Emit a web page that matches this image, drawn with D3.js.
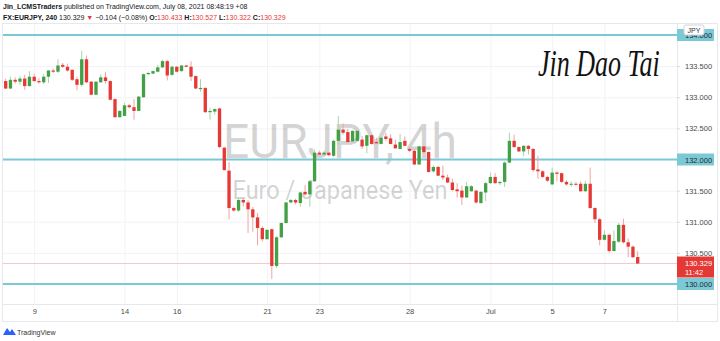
<!DOCTYPE html>
<html>
<head>
<meta charset="utf-8">
<script src="https://cdn.jsdelivr.net/npm/d3@7"></script>
<style>
  body { margin: 0; background: #fff; }
  svg { display: block; font-family: "Liberation Sans", Arial, sans-serif; }
  .axis text { fill: #4a4a4a; }
</style>
</head>
<body>
<svg id="chart" width="720" height="341"></svg>
<script>
// sessions (4h bars, UTC+8)
const days = ["Jun 8","Jun 9","Jun 10","Jun 11","Jun 12","Jun 14","Jun 15","Jun 16","Jun 17","Jun 18","Jun 19",
  "Jun 21","Jun 22","Jun 23","Jun 24","Jun 25","Jun 26","Jun 28","Jun 29","Jun 30","Jul 1","Jul 2","Jul 3",
  "Jul 5","Jul 6","Jul 7","Jul 8"];
const barsPerDay = [6,6,6,6,1,5,6,6,6,6,1,5,6,6,6,6,1,5,6,6,6,6,1,5,6,6,2];
const tickDays = ["Jun 9","Jun 14","Jun 16","Jun 21","Jun 23","Jun 28","Jul 1","Jul 5","Jul 7"];
const tickText = ["9","14","16","21","23","28","Jul","5","7"];
const priceTicks = [130, 130.5, 131, 131.5, 132, 132.5, 133, 133.5, 134];
const levels = [134, 132, 130];

const open = [133.26,133.14,133.28,133.25,133.30,133.18,133.33,133.26,133.24,133.33,
  133.43,133.41,133.52,133.49,133.44,133.29,133.20,133.61,133.25,133.04,
  133.24,133.32,133.26,132.97,132.68,132.70,132.87,132.84,132.78,133.00,
  133.37,133.38,133.41,133.48,133.58,133.36,133.49,133.42,133.51,133.49,
  133.34,133.13,133.15,132.76,132.77,132.82,132.19,131.82,131.22,131.18,
  131.35,131.31,131.20,131.07,130.90,130.72,130.88,130.29,130.75,130.98,
  131.31,131.35,131.30,131.48,131.44,131.65,132.11,132.08,132.11,132.06,
  132.30,132.48,132.44,132.29,132.30,132.32,132.22,132.39,132.28,132.25,
  132.37,132.34,132.24,132.17,132.30,132.17,132.14,131.92,132.21,132.12,
  131.81,131.88,131.74,131.71,131.63,131.52,131.50,131.39,131.49,131.50,
  131.30,131.47,131.62,131.72,131.62,131.64,131.95,132.30,132.20,132.13,
  132.22,132.17,131.84,131.81,131.72,131.60,131.79,131.78,131.64,131.60,
  131.61,131.61,131.49,131.61,131.22,131.04,130.71,130.79,130.53,130.68,
  130.95,130.67,130.60,130.433];
const high = [133.30,133.33,133.32,133.34,133.36,133.42,133.38,133.31,133.37,133.44,
  133.46,133.61,133.55,133.54,133.45,133.33,133.75,133.67,133.26,133.26,
  133.37,133.41,133.27,132.98,132.79,132.91,132.89,132.97,133.02,133.38,
  133.41,133.43,133.52,133.60,133.60,133.51,133.50,133.52,133.52,133.58,
  133.35,133.29,133.16,132.83,132.82,132.83,132.20,131.96,131.24,131.37,
  131.38,131.35,131.24,131.14,130.93,130.88,130.89,130.77,130.99,131.32,
  131.37,131.37,131.48,131.59,131.67,132.16,132.14,132.13,132.13,132.32,
  132.70,132.58,132.49,132.47,132.47,132.38,132.40,132.40,132.35,132.37,
  132.43,132.41,132.32,132.41,132.37,132.20,132.16,132.22,132.22,132.13,
  131.90,131.90,131.90,131.76,131.69,131.62,131.58,131.64,131.59,131.51,
  131.49,131.64,131.79,131.78,131.65,131.97,132.43,132.40,132.21,132.23,
  132.23,132.18,132.06,131.83,131.74,131.87,131.81,131.79,131.67,131.65,
  131.64,131.65,131.66,131.87,131.23,131.06,130.86,130.81,130.86,130.98,
  131.05,130.73,130.62,130.527];
const low = [133.13,133.13,133.22,133.20,133.12,133.17,133.25,133.22,133.21,133.23,
  133.39,133.39,133.47,133.41,133.26,133.11,133.17,133.23,133.03,133.03,
  133.23,133.22,132.95,132.67,132.67,132.70,132.82,132.64,132.78,132.99,
  133.36,133.37,133.40,133.47,133.27,133.34,133.40,133.41,133.48,133.26,
  133.13,133.09,132.75,132.64,132.72,132.18,131.82,131.04,131.16,131.16,
  131.24,130.82,130.84,130.62,130.68,130.71,130.08,130.26,130.74,130.97,
  131.30,131.28,131.24,131.42,131.24,131.64,132.07,132.06,132.05,132.04,
  132.24,132.40,132.27,132.28,132.29,132.17,132.10,132.24,132.25,132.24,
  132.30,132.24,132.17,132.16,132.21,132.12,131.91,131.91,132.10,131.79,
  131.79,131.73,131.67,131.62,131.49,131.39,131.27,131.38,131.48,131.29,
  131.29,131.33,131.61,131.61,131.59,131.56,131.94,132.19,132.12,132.05,
  132.08,131.80,131.69,131.70,131.64,131.59,131.65,131.62,131.58,131.56,
  131.58,131.48,131.48,131.21,130.98,130.62,130.70,130.50,130.52,130.66,
  130.65,130.43,130.42,130.322];
const close = [133.14,133.28,133.25,133.30,133.18,133.33,133.26,133.24,133.33,133.43,
  133.41,133.51,133.49,133.43,133.28,133.20,133.61,133.24,133.04,133.25,
  133.32,133.26,132.96,132.68,132.78,132.87,132.84,132.78,133.01,133.37,
  133.39,133.42,133.48,133.58,133.35,133.49,133.41,133.51,133.49,133.33,
  133.14,133.15,132.76,132.78,132.81,132.20,131.83,131.22,131.18,131.35,
  131.31,131.20,131.07,130.90,130.72,130.87,130.29,130.75,130.98,131.31,
  131.35,131.31,131.47,131.44,131.65,132.11,132.08,132.11,132.07,132.30,
  132.48,132.43,132.28,132.46,132.46,132.21,132.39,132.25,132.26,132.35,
  132.33,132.25,132.18,132.28,132.22,132.14,131.92,132.21,132.12,131.80,
  131.88,131.74,131.71,131.63,131.51,131.49,131.39,131.57,131.57,131.31,
  131.48,131.62,131.72,131.62,131.64,131.95,132.30,132.20,132.13,132.22,
  132.17,131.83,131.81,131.72,131.66,131.79,131.77,131.64,131.60,131.61,
  131.60,131.49,131.61,131.22,131.04,130.71,130.79,130.53,130.69,130.95,
  130.67,130.60,130.43,130.329];
const lastPrice = 130.329;

// build bar labels from the session table
const bars = [];
days.forEach(function (d, i) {
  var start = barsPerDay[i] === 5 ? 5 : 1;
  for (var k = 0; k < barsPerDay[i]; k++) {
    var h = start + 4 * k;
    bars.push(d + " " + (h < 10 ? "0" : "") + h + ":00");
  }
});
const candles = bars.map(function (b, i) {
  return { t: b, o: open[i], h: high[i], l: low[i], c: close[i] };
});

const svg = d3.select("#chart");
const W = 720, H = 341;
const plot = { left: 3, right: 677, top: 24, bottom: 304 };
const up = "#43a047", down = "#e53935";
const upWick = "#a8d5aa", downWick = "#f2a3a1";
const cyan = "#7cc9d6";

svg.append("rect").attr("width", W).attr("height", H).attr("fill", "#fff");

const x = d3.scalePoint().domain(bars).range([5.7, 637.7]);
const y = d3.scaleLinear().domain([130, 134]).range([284, 35]);
const bw = x.step() * 0.7;

// frame
svg.append("rect")
  .attr("x", plot.left - 0.5).attr("y", plot.top - 0.5)
  .attr("width", W - plot.left - 2).attr("height", 322 - plot.top)
  .attr("fill", "none").attr("stroke", "#e6e8ee");
svg.append("line").attr("x1", plot.left).attr("x2", W - 2)
  .attr("y1", plot.bottom + 0.5).attr("y2", plot.bottom + 0.5).attr("stroke", "#e6e8ee");
svg.append("line").attr("x1", plot.right + 0.5).attr("x2", plot.right + 0.5)
  .attr("y1", plot.top).attr("y2", 322).attr("stroke", "#e6e8ee");

// grid
const tickBars = tickDays.map(function (d) {
  return bars.find(function (b) { return b.indexOf(d + " ") === 0; });
});
svg.append("g")
  .attr("transform", "translate(0," + plot.bottom + ")")
  .call(d3.axisBottom(x).tickValues(tickBars).tickSize(-(plot.bottom - plot.top)).tickFormat(""))
  .call(function (g) {
    g.select(".domain").remove();
    g.selectAll("line").attr("stroke", "#f1f3f8");
  });
svg.append("g")
  .attr("transform", "translate(" + plot.left + ",0)")
  .call(d3.axisRight(y).tickValues(priceTicks).tickSize(plot.right - plot.left).tickFormat(""))
  .call(function (g) {
    g.select(".domain").remove();
    g.selectAll("line").attr("stroke", "#f1f3f8");
  });

// watermark
const wm = svg.append("g").attr("fill", "rgba(150,150,150,0.42)").attr("text-anchor", "middle")
  .style("font-family", "Roboto, sans-serif");
wm.append("text").attr("x", 340).attr("y", 158).attr("font-size", 49)
  .attr("textLength", 234).attr("lengthAdjust", "spacingAndGlyphs").text("EURJPY, 4h");
wm.append("text").attr("x", 340).attr("y", 199).attr("font-size", 26)
  .attr("textLength", 215).attr("lengthAdjust", "spacingAndGlyphs").text("Euro / Japanese Yen");

// signature
svg.append("text")
  .attr("transform", "translate(538,76) scale(1,1.45)")
  .style("font-family", "'Liberation Serif', serif").style("font-style", "italic")
  .attr("font-size", 26).attr("fill", "#111")
  .text("Jin Dao Tai");

// horizontal levels
svg.append("line").attr("x1", plot.left).attr("x2", plot.right)
  .attr("y1", y(lastPrice)).attr("y2", y(lastPrice))
  .attr("stroke", "#f5c9cc").attr("stroke-width", 1);
svg.selectAll(".level").data(levels).enter().append("line")
  .attr("class", "level")
  .attr("x1", plot.left).attr("x2", plot.right + 2)
  .attr("y1", function (d) { return y(d); }).attr("y2", function (d) { return y(d); })
  .attr("stroke", cyan).attr("stroke-width", 2);

// candles
const cg = svg.append("g");
cg.selectAll(".wick").data(candles).enter().append("line")
  .attr("x1", function (d) { return x(d.t); }).attr("x2", function (d) { return x(d.t); })
  .attr("y1", function (d) { return y(d.h); }).attr("y2", function (d) { return y(d.l); })
  .attr("stroke", function (d) { return d.c >= d.o ? upWick : downWick; })
  .attr("stroke-width", 1);
cg.selectAll(".body").data(candles).enter().append("rect")
  .attr("x", function (d) { return x(d.t) - bw / 2; })
  .attr("width", bw)
  .attr("y", function (d) { return y(Math.max(d.o, d.c)); })
  .attr("height", function (d) { return Math.max(1, Math.abs(y(d.o) - y(d.c))); })
  .attr("fill", function (d) { return d.c >= d.o ? up : down; });

// price axis
svg.append("g").attr("class", "axis")
  .attr("transform", "translate(" + plot.right + ",0)")
  .call(d3.axisRight(y).tickValues(priceTicks.filter(function (p) { return levels.indexOf(p) < 0; }))
    .tickSize(3).tickPadding(5).tickFormat(d3.format(".3f")))
  .call(function (g) {
    g.select(".domain").remove();
    g.selectAll("line").attr("stroke", "#d8dbe3");
    g.selectAll("text").attr("font-size", 7.5);
  });

// level labels
const lv = svg.selectAll(".lvl").data(levels).enter().append("g")
  .attr("transform", function (d) { return "translate(" + (plot.right) + "," + y(d) + ")"; });
lv.append("rect").attr("x", 0).attr("y", -6).attr("width", 37).attr("height", 12).attr("fill", cyan);
lv.append("text").attr("x", 8).attr("y", 3).attr("font-size", 7.5).attr("fill", "#1e2a30")
  .text(function (d) { return d3.format(".3f")(d); });

// last price label
const lp = svg.append("g").attr("transform", "translate(" + plot.right + "," + y(lastPrice) + ")");
lp.append("rect").attr("x", 0).attr("y", -7).attr("width", 37).attr("height", 21).attr("fill", "#e53935");
lp.append("text").attr("x", 8).attr("y", 2.5).attr("font-size", 7.5).attr("fill", "#fff").text("130.329");
lp.append("text").attr("x", 8).attr("y", 11).attr("font-size", 7.5).attr("fill", "#fff").text("11:42");

// currency tag
const cur = svg.append("g").attr("transform", "translate(684,25)");
cur.append("rect").attr("width", 20).attr("height", 10).attr("rx", 2)
  .attr("fill", "#fff").attr("stroke", "#d0d3da");
cur.append("text").attr("x", 10).attr("y", 7.5).attr("text-anchor", "middle")
  .attr("font-size", 7).attr("fill", "#333").text("JPY");

// time axis
const tx = svg.append("g").attr("class", "axis")
  .attr("transform", "translate(0," + plot.bottom + ")")
  .call(d3.axisBottom(x).tickValues(tickBars).tickSize(0).tickPadding(5)
    .tickFormat(function (d) { return tickText[tickBars.indexOf(d)]; }));
tx.select(".domain").remove();
tx.selectAll("text").attr("font-size", 7.5);

// header
const hd = svg.append("g").attr("font-size", 7).attr("fill", "#131722");
const l1 = hd.append("text").attr("x", 3).attr("y", 9);
l1.append("tspan").attr("font-weight", "bold").text("Jin_LCMSTraders");
l1.append("tspan").text(" published on TradingView.com, July 08, 2021 08:48:19 +08");
const l2 = hd.append("text").attr("x", 3).attr("y", 20);
l2.append("tspan").attr("font-weight", "bold").text("FX:EURJPY, 240");
l2.append("tspan").text(" 130.329 ");
l2.append("tspan").attr("fill", down).text("▼");
l2.append("tspan").text(" −0.104 (−0.08%) ");
[["O:", "130.433"], ["H:", "130.527"], ["L:", "130.322"], ["C:", "130.329"]].forEach(function (p, i) {
  l2.append("tspan").attr("font-weight", "bold").text((i ? " " : "") + p[0]);
  l2.append("tspan").attr("fill", down).text(p[1]);
});

// footer logo
const lg = svg.append("g").attr("transform", "translate(3,326)");
lg.append("path").attr("d", "M0,9 L4,2 L7,6 L9,3 L13,9 Z").attr("fill", "#2962ff");
lg.append("text").attr("x", 14).attr("y", 8.5).attr("font-size", 7).attr("fill", "#333").text("TradingView");
</script>
</body>
</html>
